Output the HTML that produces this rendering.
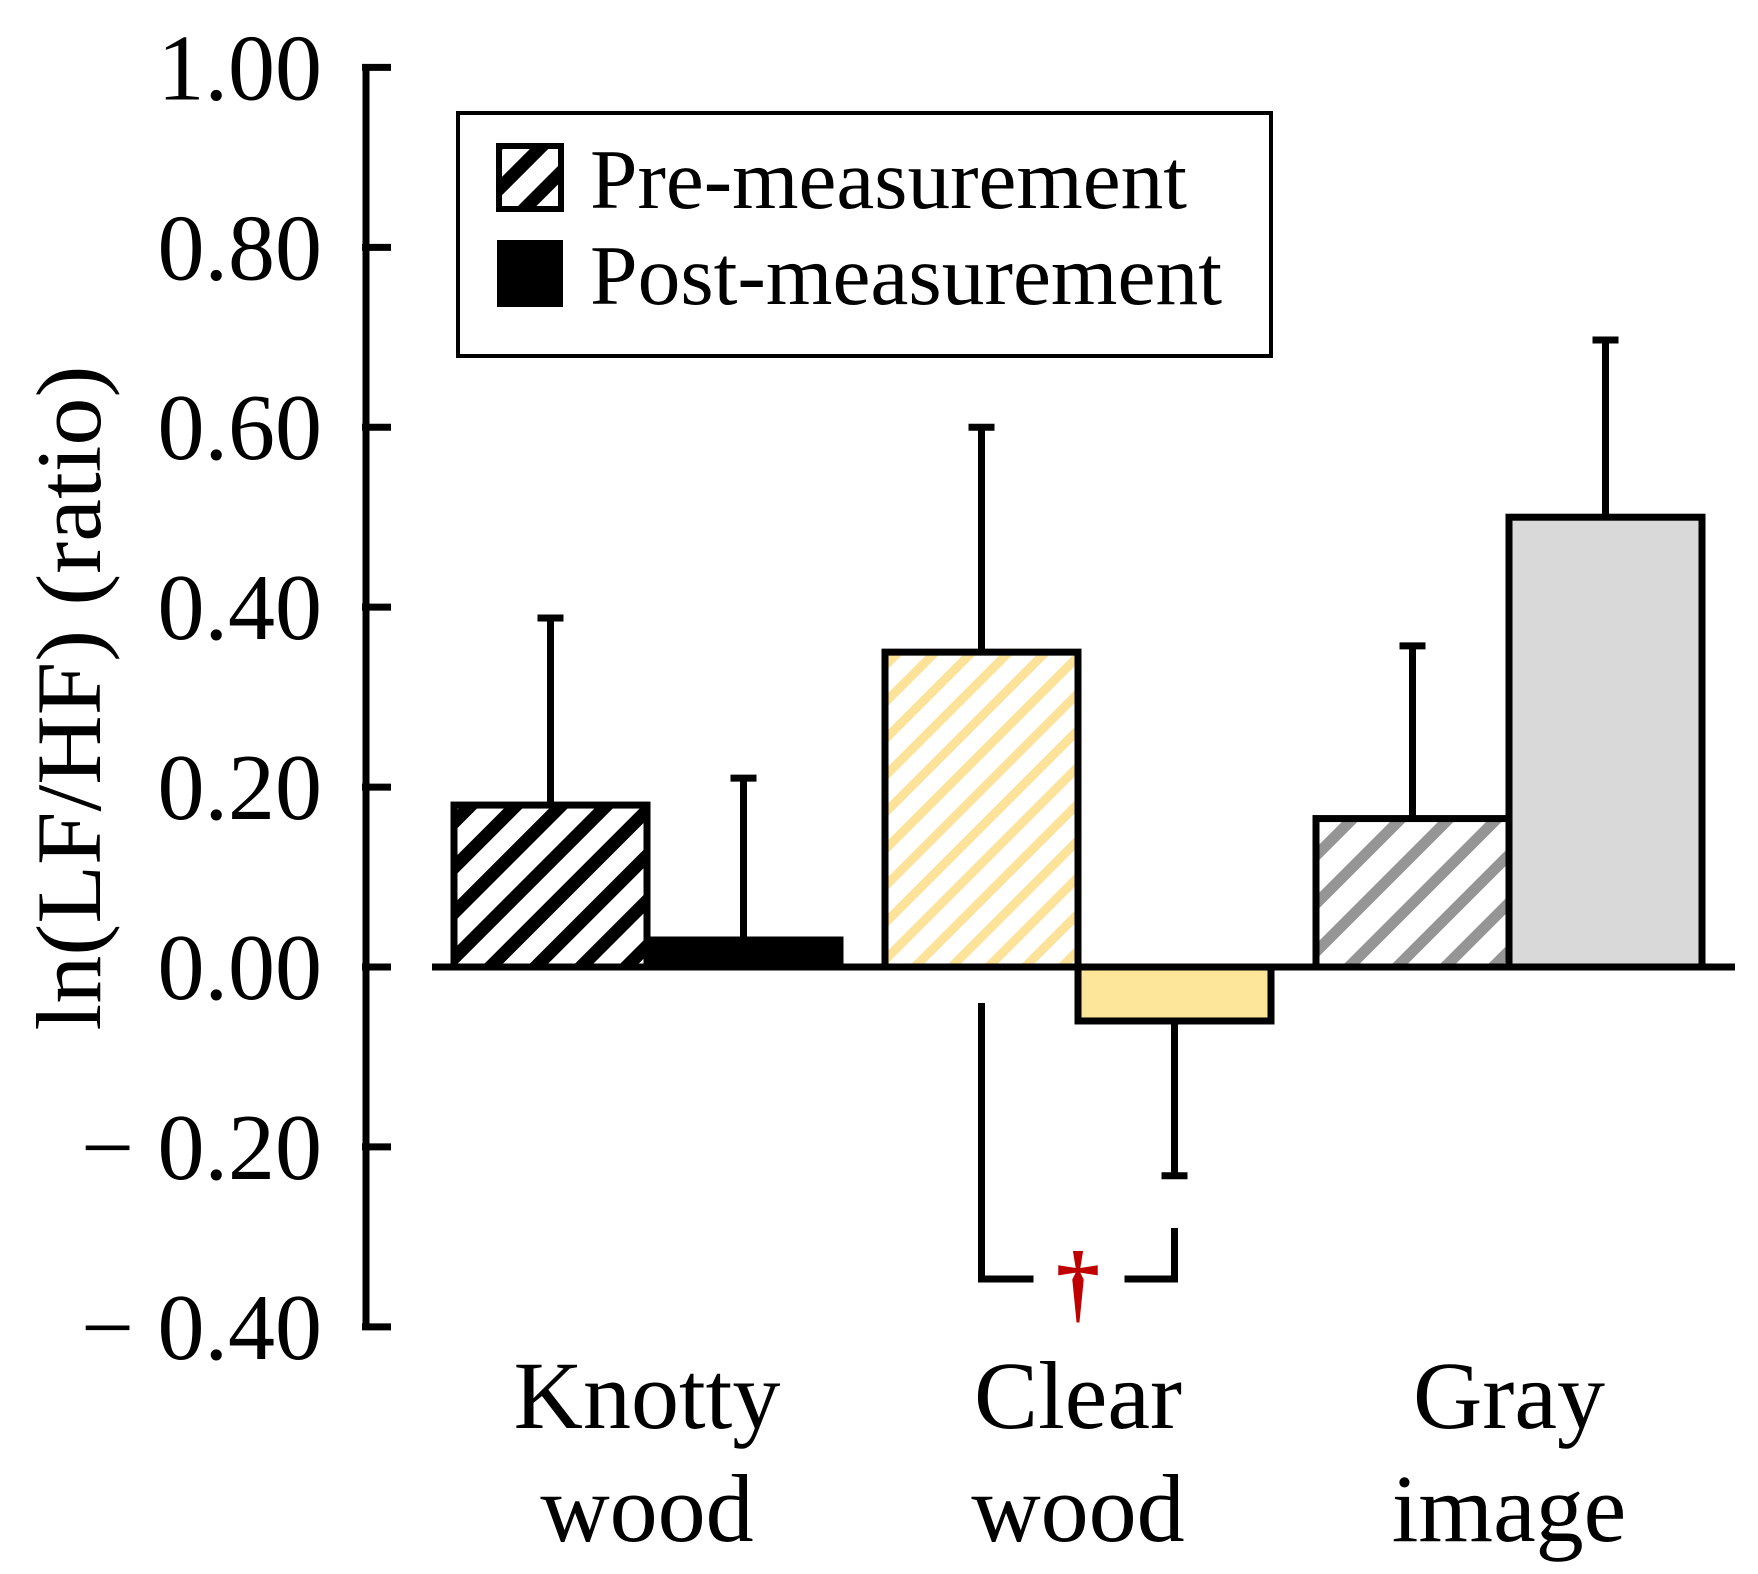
<!DOCTYPE html>
<html><head><meta charset="utf-8"><style>html,body{margin:0;padding:0;background:#fff}svg{display:block}</style></head>
<body>
<svg id="chart" width="1758" height="1574" viewBox="0 0 1758 1574" xmlns="http://www.w3.org/2000/svg" font-family="'Liberation Serif', serif">
<defs>
<pattern id="hatch-black" patternUnits="userSpaceOnUse" width="32" height="32" patternTransform="rotate(45)"><rect width="32" height="32" fill="#fff"/><rect width="13" height="32" fill="#000"/></pattern>
<pattern id="hatch-yellow" patternUnits="userSpaceOnUse" width="26" height="26" patternTransform="rotate(45)"><rect width="26" height="26" fill="#fff"/><rect width="9" height="26" fill="#fde39a"/></pattern>
<pattern id="hatch-gray" patternUnits="userSpaceOnUse" width="34" height="34" patternTransform="rotate(45)"><rect width="34" height="34" fill="#fff"/><rect width="11" height="34" fill="#959595"/></pattern>
</defs>
<g id="marks"></g>
<g>
<rect x="458" y="113" width="813" height="243" fill="#fff" stroke="#000" stroke-width="4"/>
<rect x="499" y="146" width="62" height="63" fill="url(#hatch-black)" stroke="#000" stroke-width="6"/>
<text x="590" y="208" font-size="85" textLength="597" lengthAdjust="spacingAndGlyphs">Pre-measurement</text>
<rect x="497" y="240" width="66" height="67" fill="#000"/>
<text x="590" y="304" font-size="85" textLength="632" lengthAdjust="spacingAndGlyphs">Post-measurement</text>
</g>
<text transform="translate(100,698) rotate(-90)" text-anchor="middle" font-size="92" textLength="665" lengthAdjust="spacingAndGlyphs">ln(LF/HF) (ratio)</text>
<script>
const categories = [["Knotty","wood"],["Clear","wood"],["Gray","image"]];
const preValues = [0.18, 0.35, 0.165];
const postValues = [0.03, -0.06, 0.5];
const preErr = [0.208, 0.25, 0.192];
const postErr = [0.18, 0.172, 0.197];
const tickValues = [1.0, 0.8, 0.6, 0.4, 0.2, 0.0, -0.2, -0.4];
const tickLabels = ["1.00","0.80","0.60","0.40","0.20","0.00","\u2212 0.20","\u2212 0.40"];
const preFills = ["url(#hatch-black)","url(#hatch-yellow)","url(#hatch-gray)"];
const postFills = ["#000","#fde59a","#d9d9d9"];

const NS = "http://www.w3.org/2000/svg";
const y = v => 967 - v * 899.6;
const xCenter = i => 647 + i * 431;
const BW = 193;
const g = document.getElementById("marks");
function mk(tag, attrs){ const e=document.createElementNS(NS,tag); for(const k in attrs) e.setAttribute(k,attrs[k]); g.appendChild(e); return e; }

let ax = mk("line",{x1:366,y1:y(1),x2:366,y2:y(-0.4),stroke:"#000","stroke-width":7});


tickValues.forEach((v,i)=>{
  const t = mk("line",{x1:362,y1:y(v),x2:391,y2:y(v),stroke:"#000","stroke-width":7});
  
  
  const tx = mk("text",{x:322,y:y(v)+32,"text-anchor":"end","font-size":94});
  tx.textContent = tickLabels[i];
  
  
});

function errBar(xc, v, e){
  const yEnd = y(v + (v>=0 ? e : -e));
  const l = mk("line",{x1:xc,y1:y(v),x2:xc,y2:yEnd,stroke:"#000","stroke-width":7});
  
  
  const c = mk("line",{x1:xc-13,y1:yEnd,x2:xc+13,y2:yEnd,stroke:"#000","stroke-width":7});
  
  
}

categories.forEach((cat,i)=>{
  const xc = xCenter(i);
  const vp = preValues[i], vq = postValues[i];
  errBar(xc - BW/2, vp, preErr[i]);
  errBar(xc + BW/2, vq, postErr[i]);
  const bp = mk("rect",{x:xc-BW,y:Math.min(y(vp),y(0)),width:BW,height:Math.abs(y(vp)-y(0)),fill:preFills[i],stroke:"#000","stroke-width":7});
  
  
  const bq = mk("rect",{x:xc,y:Math.min(y(vq),y(0)),width:BW,height:Math.abs(y(vq)-y(0)),fill:postFills[i],stroke:"#000","stroke-width":7});
  
  
  cat.forEach((line,j)=>{
    const t = mk("text",{x:xc,y:1428+j*113,"text-anchor":"middle","font-size":96});
    t.textContent = line;
    
    
  });
});

let z = mk("line",{x1:432,y1:y(0),x2:1735,y2:y(0),stroke:"#000","stroke-width":7});



const bl = xCenter(1) - BW/2, br = xCenter(1) + BW/2, by = 1279;
let br1 = mk("polyline",{points:`${bl},1003 ${bl},${by} ${bl+52},${by}`,fill:"none",stroke:"#000","stroke-width":7});


let br2 = mk("polyline",{points:`${br-50},${by} ${br},${by} ${br},1228`,fill:"none",stroke:"#000","stroke-width":7});


let dg = mk("text",{x:xCenter(1),y:1312,"text-anchor":"middle","font-size":88,fill:"#c00000","font-weight":"bold"});
dg.textContent = "\u2020";


</script>
</svg>
</body></html>
